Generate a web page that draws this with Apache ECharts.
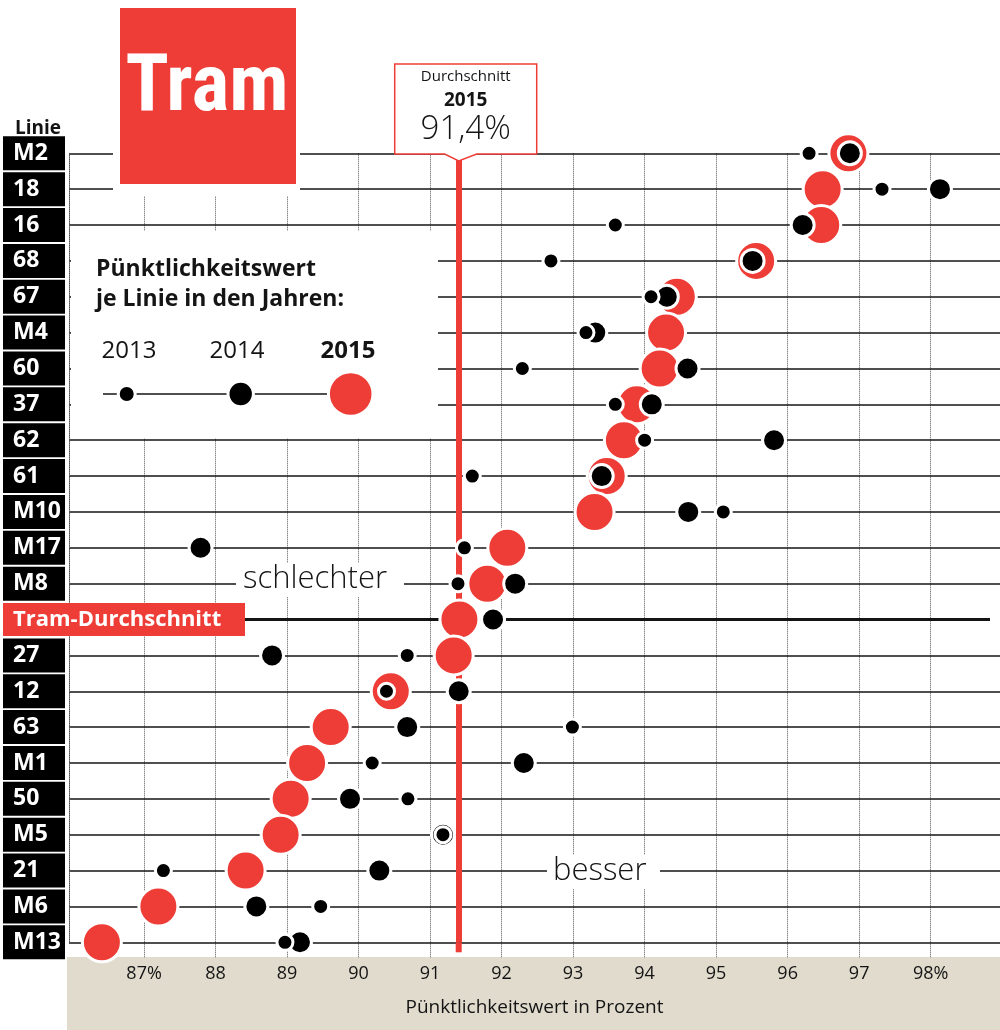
<!DOCTYPE html>
<html><head><meta charset="utf-8">
<script src="https://cdn.jsdelivr.net/npm/echarts@6/dist/echarts.min.js"></script>
<style>html,body{margin:0;padding:0;background:#fff}#c{width:1000px;height:1030px}</style>
</head><body><div id="c"></div>
<script>
// ---------- data ----------
const categories = ['M2','18','16','68','67','M4','60','37','62','61','M10','M17','M8','Tram-Durchschnitt','27','12','63','M1','50','M5','21','M6','M13'];
const values2013 = [96.30, 97.32, 93.59, 92.69, 94.09, 93.18, 92.29, 93.59, 94.00, 91.59, 95.10, 91.48, 91.39, null, 90.68, 90.39, 92.99, 90.19, 90.69, 91.18, 87.27, 89.47, 88.97];
const values2014 = [96.87, 98.13, 96.21, 95.51, 94.31, 93.31, 94.60, 94.10, 95.81, 93.40, 94.61, 87.79, 92.19, 91.88, 88.79, 91.40, 90.68, 92.31, 89.88, 91.18, 90.29, 88.57, 89.18];
const values2015 = [96.85, 96.49, 96.47, 95.56, 94.45, 94.30, 94.21, 93.89, 93.71, 93.47, 93.30, 92.08, 91.80, 91.41, 91.33, 90.45, 89.61, 89.28, 89.05, 88.91, 88.42, 87.20, 86.41];
const average2015 = 91.4;
const averageLabel = '91,4%';
const xTicks = [87, 88, 89, 90, 91, 92, 93, 94, 95, 96, 97, 98];
const xTickLabels = ['87%', '88', '89', '90', '91', '92', '93', '94', '95', '96', '97', '98%'];
const averageCategory = 'Tram-Durchschnitt';

// ---------- layout / style ----------
const xMin = 85.95, xMax = 98.97, avgRowEnd = 98.83;
const RED = '#ee3d37';
const INK = '#141414';
const FF = '"Open Sans", "Noto Sans", sans-serif';
const FF_NARROW = '"Liberation Sans Narrow", "Roboto Condensed", "Open Sans", sans-serif';

const chart = echarts.init(document.getElementById('c'), null, {renderer: 'canvas'});

function pts(arr) {
  return arr.map((v, i) => v == null ? null : [v, categories[i]]).filter(Boolean);
}

const rowLines = categories.map(c => c === averageCategory
  ? [{coord: [xMin, c], lineStyle: {width: 3, color: INK}}, {coord: [avgRowEnd, c], lineStyle: {width: 3, color: INK}}]
  : {yAxis: c});

const option = {
  animation: false,
  backgroundColor: '#fff',
  grid: {left: 68, right: 0, top: 153.3, bottom: 1030 - 942.3, containLabel: false},
  xAxis: {
    type: 'value', min: xMin, max: xMax, z: 0,
    axisLine: {show: false},
    axisTick: {show: true, customValues: xTicks, length: 15, lineStyle: {color: '#555', type: 'dotted', width: 1}},
    axisLabel: {customValues: xTicks, formatter: v => xTickLabels[xTicks.indexOf(v)] ?? '', fontSize: 18, color: INK, margin: 23, fontFamily: FF},
    splitLine: {show: true, lineStyle: {color: '#555', type: 'dotted', width: 1}},
    name: 'Pünktlichkeitswert in Prozent', nameLocation: 'middle', nameGap: 56,
    nameTextStyle: {fontSize: 19, color: INK, fontFamily: FF}
  },
  yAxis: {
    type: 'category', data: categories, inverse: true, boundaryGap: false, z: 3.5,
    axisLine: {show: true, lineStyle: {color: '#555', type: 'dotted', width: 1}},
    axisTick: {show: false}, splitLine: {show: false},
    axisLabel: {
      margin: 66, align: 'left', interval: 0,
      formatter: v => v === averageCategory ? '{r|' + v + '}' : '{b|' + v + '}',
      rich: {
        b: {color: '#fff', fontWeight: 'bold', fontSize: 23, fontFamily: FF, backgroundColor: '#000', width: 52, height: 34, lineHeight: 34, padding: [0, 0, 0, 10], align: 'left'},
        r: {color: '#fff', fontWeight: 'bold', fontSize: 22, fontFamily: FF, backgroundColor: RED, width: 232, height: 33, lineHeight: 33, padding: [0, 0, 0, 10], align: 'left'}
      }
    }
  },
  series: [
    {type: 'line', name: 'rows', data: [], z: 1, silent: true,
     markLine: {z: 1, silent: true, symbol: 'none', animation: false, label: {show: false},
       lineStyle: {color: INK, width: 1.7, type: 'solid'}, emphasis: {disabled: true}, data: rowLines}},
    {type: 'line', name: 'avg', data: [], z: 4, silent: true,
     markLine: {z: 4, silent: true, symbol: 'none', animation: false, label: {show: false},
       lineStyle: {color: RED, width: 6, type: 'solid'}, emphasis: {disabled: true}, data: [{xAxis: average2015}]}},
    {type: 'scatter', name: '2015', data: pts(values2015), symbol: 'circle', symbolSize: 39, z: 5, clip: false, silent: true,
     itemStyle: {color: RED, borderColor: '#fff', borderWidth: 3, opacity: 1}},
    {type: 'scatter', name: '2014', data: pts(values2014), symbol: 'circle', symbolSize: 23, z: 6, clip: false, silent: true,
     itemStyle: {color: '#000', borderColor: '#fff', borderWidth: 3, opacity: 1}},
    {type: 'scatter', name: '2013', data: pts(values2013), symbol: 'circle', symbolSize: 16, z: 7, clip: false, silent: true,
     itemStyle: {color: '#000', borderColor: '#fff', borderWidth: 3, opacity: 1}}
  ]
};
chart.setOption(option);

// ---------- annotations ----------
const px = chart.convertToPixel({xAxisIndex: 0}, average2015);
const lastRowY = chart.convertToPixel({yAxisIndex: 0}, categories[categories.length - 1]);
function txt(t, x, y, size, weight, opts) {
  opts = opts || {};
  return {type: 'text', z: opts.z || 10, silent: true,
    style: {text: t, x: x, y: y, fill: opts.fill || INK,
      font: (weight || 'normal') + ' ' + size + 'px ' + (opts.family || FF),
      align: opts.align || 'left', textAlign: opts.align || 'left',
      verticalAlign: 'middle', textVerticalAlign: 'middle'}};
}
function rect(x, y, w, h, fill, z) {
  return {type: 'rect', z: z, silent: true, shape: {x: x, y: y, width: w, height: h}, style: {fill: fill}};
}
function dot(cx, cy, rFill, fill) {
  return {type: 'circle', z: 9, silent: true, shape: {cx: cx, cy: cy, r: rFill + 1.5}, style: {fill: fill, stroke: '#fff', lineWidth: 3}};
}
const L = px - 64, R = px + 78, T = 64, B = 154;
const graphics = [
  rect(67, 957, 933, 73, '#e0dbcd', -1),
  // white gaps
  rect(113, 0, 187, 196, '#fff', 3),
  rect(71, 231, 367, 207, '#fff', 3),
  rect(236, 563, 168, 34, '#fff', 3),
  rect(547, 855, 113, 34, '#fff', 3),
  // average line tail below last row
  {type: 'line', z: 4, silent: true, shape: {x1: px, y1: lastRowY, x2: px, y2: lastRowY + 10}, style: {stroke: RED, lineWidth: 6}},
  // Tram box
  rect(120, 8, 176, 176, RED, 3.6),
  txt('Tram', 207, 90, 80, 'bold', {fill: '#fff', align: 'center', z: 3.7, family: FF_NARROW}),
  txt('Linie', 38, 129, 19, 'bold', {align: 'center'}),
  // legend
  txt('Pünktlichkeitswert', 96, 269, 23, 'bold'),
  txt('je Linie in den Jahren:', 96, 299, 23, 'bold'),
  txt('2013', 129, 351, 24, 'normal', {align: 'center'}),
  txt('2014', 237, 351, 24, 'normal', {align: 'center'}),
  txt('2015', 348, 351, 24, 'bold', {align: 'center'}),
  {type: 'line', z: 8, silent: true, shape: {x1: 103, y1: 394, x2: 328, y2: 394}, style: {stroke: INK, lineWidth: 1.7}},
  dot(126.7, 394, 7, '#000'),
  dot(240.7, 394, 11.2, '#000'),
  dot(350.7, 394, 20.8, RED),
  // schlechter / besser
  txt('schlechter', 243, 579, 31, '300'),
  txt('besser', 553, 871, 31, '300'),
  // callout
  {type: 'polygon', z: 4.5, silent: true,
   shape: {points: [[L, T], [R, T], [R, B], [px + 18, B], [px, 161], [px - 14, B], [L, B]]},
   style: {fill: '#fff', stroke: RED, lineWidth: 1.5}},
  txt('Durchschnitt', (L + R) / 2, 77, 15, 'normal', {align: 'center'}),
  txt('2015', (L + R) / 2, 101, 19, 'bold', {align: 'center'}),
  txt(averageLabel, (L + R) / 2, 130, 33, '300', {align: 'center'})
];
chart.setOption({graphic: graphics});
</script>
</body></html>
